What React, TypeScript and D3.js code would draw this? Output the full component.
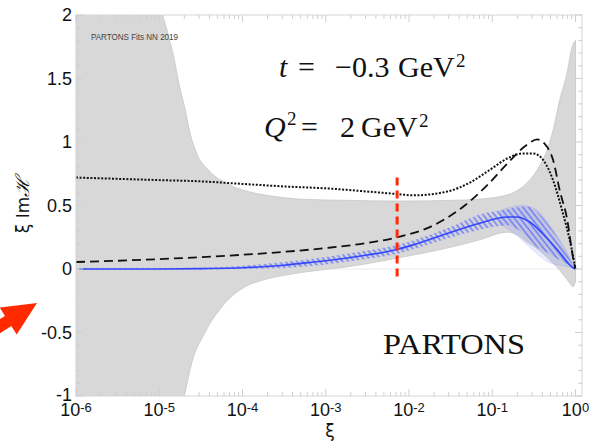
import React from "react";
import * as d3 from "d3";

// ---------- data (x values are log10(xi)) ----------
const bandUpperLogXi = [-6, -5.35, -4.96, -4.89, -4.82, -4.76, -4.69, -4.63, -4.55, -4.41, -4.21, -3.93, -3.61, -3.31, -2.71, -2.11, -1.51, -1.15, -0.91, -0.75, -0.58, -0.46, -0.34, -0.27, -0.19, -0.1, -0.04, 0];
const bandUpper = [3.5, 2.6, 2.0, 1.84, 1.65, 1.45, 1.26, 1.07, 0.91, 0.78, 0.68, 0.61, 0.57, 0.55, 0.54, 0.535, 0.54, 0.55, 0.57, 0.6, 0.68, 0.78, 0.94, 1.09, 1.33, 1.55, 1.75, 1.8];
const bandLowerLogXi = [-6, -5.2, -4.7, -4.61, -4.45, -4.25, -3.97, -3.77, -3.5, -3.21, -2.71, -2.11, -1.51, -1.15, -0.82, -0.7, -0.58, -0.46, -0.34, -0.19, -0.07, -0.03, 0];
const bandLower = [-3, -1.6, -1.0, -0.74, -0.5, -0.3, -0.14, -0.09, -0.05, -0.02, 0.02, 0.09, 0.17, 0.23, 0.29, 0.27, 0.21, 0.16, 0.09, -0.01, -0.11, -0.14, -0.1];

const hatchLogXi = [-6, -4.5, -4, -3.5, -3, -2.5, -2.11, -1.95, -1.54, -1.15, -0.82, -0.75, -0.63, -0.55, -0.46, -0.34, -0.27, -0.19, -0.1, -0.03, 0];
const hatchLower = [-0.004, -0.004, 0.0, 0.008, 0.035, 0.08, 0.125, 0.155, 0.24, 0.31, 0.345, 0.33, 0.28, 0.23, 0.17, 0.13, 0.1, 0.07, 0.04, 0.01, 0];
const hatchUpper = [0.004, 0.01, 0.025, 0.055, 0.095, 0.145, 0.195, 0.225, 0.32, 0.43, 0.47, 0.48, 0.49, 0.49, 0.45, 0.36, 0.3, 0.22, 0.12, 0.03, 0];

const paleLogXi = [-0.9, -0.82, -0.63, -0.46, -0.34, -0.19, -0.1, 0];
const paleLower = [0.35, 0.32, 0.22, 0.12, 0.06, 0.03, 0.02, 0];
const paleUpper = [0.46, 0.48, 0.5, 0.46, 0.37, 0.23, 0.13, 0];

const centralLogXi = [-5.96, -5, -4.5, -4, -3.5, -3.21, -3, -2.5, -2.11, -1.95, -1.54, -1.15, -0.82, -0.7, -0.55, -0.34, -0.19, -0.03, 0];
const central = [0, 0, 0.003, 0.01, 0.03, 0.05, 0.065, 0.11, 0.16, 0.19, 0.28, 0.36, 0.41, 0.41, 0.37, 0.24, 0.13, 0.01, 0];

const dashedLogXi = [-6, -5.5, -5, -4.5, -4, -3.5, -3, -2.5, -2.14, -1.75, -1.35, -1.06, -0.82, -0.58, -0.46, -0.34, -0.27, -0.19, -0.1, -0.03, 0];
const dashed = [0.055, 0.065, 0.078, 0.093, 0.112, 0.135, 0.165, 0.205, 0.25, 0.33, 0.49, 0.66, 0.83, 0.98, 1.02, 0.96, 0.86, 0.62, 0.39, 0.09, 0.0];

const dottedLogXi = [-6, -5, -4.5, -4, -3.5, -3, -2.5, -2.14, -1.95, -1.54, -1.27, -1.03, -0.82, -0.63, -0.51, -0.39, -0.27, -0.16, -0.05, 0];
const dotted = [0.72, 0.7, 0.69, 0.67, 0.65, 0.635, 0.61, 0.59, 0.58, 0.61, 0.68, 0.78, 0.87, 0.91, 0.91, 0.86, 0.7, 0.46, 0.17, 0.0];

const redLineXi = 0.0072;
const redLineRange = [-0.08, 0.72];

const xTickExponents = [-6, -5, -4, -3, -2, -1, 0];
const yTicks = [-1, -0.5, 0, 0.5, 1, 1.5, 2];
const yTickLabels = ["-1", "-0.5", "0", "0.5", "1", "1.5", "2"];

// ---------- layout ----------
const W = 589, H = 442;
const L = 76, R = 582, T = 15, B = 396;

const x = d3.scaleLog().domain([1e-6, 1]).range([L, 575.5]);
const y = d3.scaleLinear().domain([-1, 2]).range([B, T]);

type P = [number, number];
const pts = (lx: number[], v: number[]): P[] => lx.map((l, i) => [x(Math.pow(10, l)), y(v[i])]);
const line = d3.line<P>().x(d => d[0]).y(d => d[1]).curve(d3.curveMonotoneX);

const bandPath = (lx1: number[], up: number[], lx2: number[], lo: number[]) => {
  const a = line(pts(lx1, up)) as string;
  const b = line(pts(lx2, lo).reverse()) as string;
  return a + "L" + b.slice(1) + "Z";
};

// arrow geometry (decoration pointing at the plot)
const arrowPath = () => {
  const tip: P = [37, 303];
  const ang = (-32 * Math.PI) / 180;
  const d: P = [Math.cos(ang), Math.sin(ang)];
  const n: P = [-d[1], d[0]];
  const headLen = 34, headHalf = 16, shaftHalf = 6, shaftLen = 30;
  const c: P = [tip[0] - headLen * d[0], tip[1] - headLen * d[1]];
  const p = (base: P, k: number, m: number): P => [base[0] + k * n[0] + m * d[0], base[1] + k * n[1] + m * d[1]];
  const poly = [tip, p(c, -headHalf, 0), p(c, -shaftHalf, 0), p(c, -shaftHalf, -shaftLen), p(c, shaftHalf, -shaftLen), p(c, shaftHalf, 0), p(c, headHalf, 0)];
  return poly.map(q => q.join(",")).join(" ");
};

export default function App() {
  const grayBand = bandPath(bandUpperLogXi, bandUpper, bandLowerLogXi, bandLower);
  const hatchBand = bandPath(hatchLogXi, hatchUpper, hatchLogXi, hatchLower);
  const paleBand = bandPath(paleLogXi, paleUpper, paleLogXi, paleLower);

  const yMinor = d3.range(-1, 2.0001, 0.1);
  const xMinor: number[] = [];
  for (let e = -6; e < 0; e++) for (let m = 2; m <= 9; m++) xMinor.push(m * Math.pow(10, e));

  const tickColor = "#cfcfcf";
  const rx = x(redLineXi);

  return (
    <svg width={W} height={H} style={{ position: "absolute", left: 0, top: 0, background: "#fff" }}>
      <defs>
        <clipPath id="plotClip">
          <rect x={L} y={T} width={R - L} height={B - T} />
        </clipPath>
        <pattern id="hatch" patternUnits="userSpaceOnUse" width={4.5} height={4.5} patternTransform="rotate(-38)">
          <line x1={1} y1={0} x2={1} y2={4.5} stroke="#4a5cff" strokeWidth={1} />
        </pattern>
      </defs>

      {/* zero line */}
      <line x1={L} x2={R} y1={y(0)} y2={y(0)} stroke="#ececec" strokeWidth={1} />

      <g clipPath="url(#plotClip)">
        <path d={grayBand} fill="#d8d8d8" stroke="#c6c6c6" strokeWidth={0.8} />
        <path d={paleBand} fill="rgba(120,130,255,0.16)" stroke="rgba(120,130,255,0.35)" strokeWidth={0.6} />
        <path d={hatchBand} fill="rgba(110,125,255,0.07)" />
        <path d={hatchBand} fill="url(#hatch)" />
        <path d={line(pts(centralLogXi, central)) as string} fill="none" stroke="#3347ff" strokeWidth={1.6} />
        <path d={line(pts(dashedLogXi, dashed)) as string} fill="none" stroke="#111" strokeWidth={1.8} strokeDasharray="9,5" />
        <path d={line(pts(dottedLogXi, dotted)) as string} fill="none" stroke="#111" strokeWidth={2} strokeDasharray="2,1.6" />
      </g>

      {/* frame */}
      <rect x={L} y={T} width={R - L} height={B - T} fill="none" stroke="#d6d6d6" strokeWidth={1} />

      {/* y ticks */}
      {yMinor.map((v, i) => {
        const major = Math.abs(v * 2 - Math.round(v * 2)) < 1e-6;
        const len = major ? 7 : 4;
        return (
          <g key={"ym" + i}>
            <line x1={L} x2={L + len} y1={y(v)} y2={y(v)} stroke={tickColor} />
            <line x1={R} x2={R - len} y1={y(v)} y2={y(v)} stroke={tickColor} />
          </g>
        );
      })}
      {/* x ticks */}
      {xMinor.map((v, i) => (
        <g key={"xm" + i}>
          <line x1={x(v)} x2={x(v)} y1={B} y2={B - 4} stroke={tickColor} />
          <line x1={x(v)} x2={x(v)} y1={T} y2={T + 4} stroke={tickColor} />
        </g>
      ))}
      {xTickExponents.map(e => (
        <g key={"xM" + e}>
          <line x1={x(Math.pow(10, e))} x2={x(Math.pow(10, e))} y1={B} y2={B - 7} stroke={tickColor} />
          <line x1={x(Math.pow(10, e))} x2={x(Math.pow(10, e))} y1={T} y2={T + 7} stroke={tickColor} />
        </g>
      ))}

      {/* y tick labels */}
      {yTicks.map((v, i) => (
        <text key={"yl" + i} x={72} y={y(v) - (v === -1 ? 1 : 0)} dy="0.36em" textAnchor="end"
          fontFamily="'Liberation Sans', Arial, sans-serif" fontSize={18} fill="#111">
          {yTickLabels[i]}
        </text>
      ))}
      {/* x tick labels */}
      {xTickExponents.map(e => (
        <text key={"xl" + e} x={x(Math.pow(10, e))} y={416} textAnchor="middle"
          fontFamily="'Liberation Sans', Arial, sans-serif" fontSize={18} fill="#111">
          <tspan>10</tspan>
          <tspan dy={-4} fontSize={13}>{e === 0 ? "0" : "-" + Math.abs(e)}</tspan>
        </text>
      ))}

      {/* axis titles */}
      <text x={330} y={437} textAnchor="middle" fontFamily="'DejaVu Sans', sans-serif" fontSize={17} fill="#111">ξ</text>
      <text transform="translate(29,205) rotate(-90)" textAnchor="middle" fontFamily="'DejaVu Sans', sans-serif" fontSize={17} fill="#111">
        ξ Im<tspan fontFamily="'DejaVu Serif', serif" fontStyle="italic" fontSize={19}>ℋ</tspan>
      </text>

      {/* annotations */}
      <text x={91} y={40} fontFamily="'Liberation Sans', Arial, sans-serif" fontSize={9.5} fill="#444" textLength={87} lengthAdjust="spacingAndGlyphs">PARTONS Fits NN 2019</text>

      <g fontFamily="'Liberation Serif', 'Times New Roman', serif" fontSize={30} fill="#111">
        <text y={77}>
          <tspan x={279} fontStyle="italic">t</tspan>
          <tspan x={298}>=</tspan>
          <tspan x={335}>−0.3</tspan>
          <tspan x={398}>GeV</tspan>
          <tspan x={456} dy={-10} fontSize={19}>2</tspan>
        </text>
        <text y={137}>
          <tspan x={264} fontStyle="italic">Q</tspan>
          <tspan x={287} dy={-12} fontSize={19}>2</tspan>
          <tspan x={301} dy={12}>=</tspan>
          <tspan x={340}>2</tspan>
          <tspan x={361}>GeV</tspan>
          <tspan x={419} dy={-10} fontSize={19}>2</tspan>
        </text>
        <text x={383} y={354} fontSize={30} textLength={142} lengthAdjust="spacingAndGlyphs">PARTONS</text>
      </g>

      {/* red dashed marker */}
      <line x1={rx} x2={rx} y1={y(redLineRange[1])} y2={y(redLineRange[0])} stroke="#ff2a0a" strokeWidth={3} strokeDasharray="8,5" />

      {/* red arrow */}
      <polygon points={arrowPath()} fill="#ff2a00" />
    </svg>
  );
}
